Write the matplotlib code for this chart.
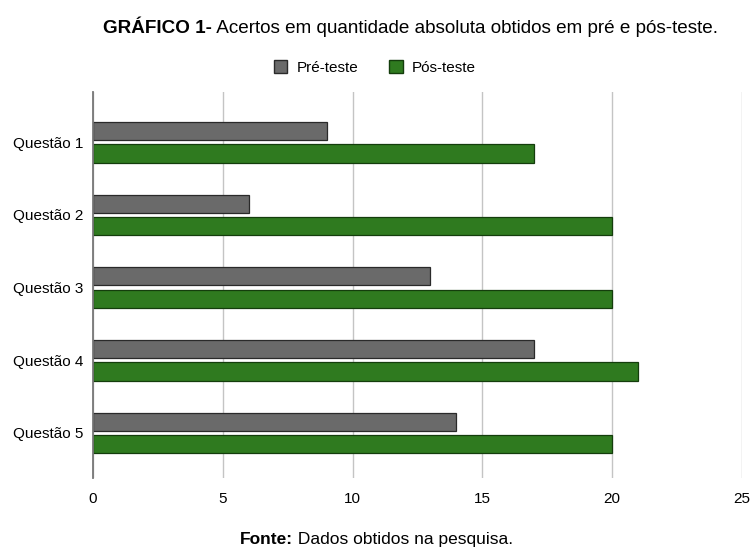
import numpy as np
import matplotlib
matplotlib.use("Agg")
import matplotlib.pyplot as plt
from matplotlib.patches import Patch

plt.rcParams['font.family'] = ['Liberation Sans', 'DejaVu Sans']

questoes = ["Questão 1", "Questão 2", "Questão 3", "Questão 4", "Questão 5"]
pre_teste = [9, 6, 13, 17, 14]
pos_teste = [17, 20, 20, 21, 20]
x_ticks = [0, 5, 10, 15, 20, 25]

cor_pre = "#6a6a6a"
cor_pos = "#2f7a1f"

fig = plt.figure(figsize=(7.54, 5.51), dpi=100)
ax = fig.add_axes([0.1233, 0.1325, 0.8607, 0.7005])

y = np.arange(len(questoes))
h = 0.25
ax.barh(y - 0.155, pre_teste, height=h, color=cor_pre, edgecolor="#2a2a2a", linewidth=0.9, zorder=3)
ax.barh(y + 0.155, pos_teste, height=h, color=cor_pos, edgecolor="#143d0c", linewidth=0.9, zorder=3)

ax.set_xlim(0, 25)
ax.set_ylim(4.62, -0.69)
ax.set_xticks(x_ticks)
ax.set_yticks(y)
ax.set_yticklabels(questoes, fontsize=11)
ax.tick_params(axis="x", length=0, pad=10, labelsize=11)
ax.tick_params(axis="y", length=0, pad=7)
ax.grid(axis="x", color="#c4c4c4", linewidth=1, zorder=0)
for s in ["top", "right", "bottom"]:
    ax.spines[s].set_visible(False)
ax.spines["left"].set_color("#777777")
ax.spines["left"].set_linewidth(1.3)
ax.spines["left"].set_zorder(4)

# titulo com parte em negrito
t1 = fig.text(0.1366, 0.94, "GRÁFICO 1-", fontsize=13.6, fontweight="bold", va="baseline")
fig.canvas.draw()
ax.annotate(" Acertos em quantidade absoluta obtidos em pré e pós-teste.", xy=(1, 0),
            xycoords=t1, fontsize=13.6, va="bottom", annotation_clip=False)

handles = [Patch(facecolor=cor_pre, edgecolor="#2a2a2a", label="Pré-teste"),
           Patch(facecolor=cor_pos, edgecolor="#143d0c", label="Pós-teste")]
fig.legend(handles=handles, loc="center", bbox_to_anchor=(0.497, 0.877), ncol=2,
           frameon=False, fontsize=11, handlelength=0.9, handleheight=0.9,
           columnspacing=2.0, handletextpad=0.6)

f1 = fig.text(0.318, 0.012, "Fonte:", fontsize=12.5, fontweight="bold", va="baseline")
fig.canvas.draw()
ax.annotate(" Dados obtidos na pesquisa.", xy=(1, 0), xycoords=f1, fontsize=12.5,
            va="bottom", annotation_clip=False)

fig.savefig("out.png", dpi=100)
